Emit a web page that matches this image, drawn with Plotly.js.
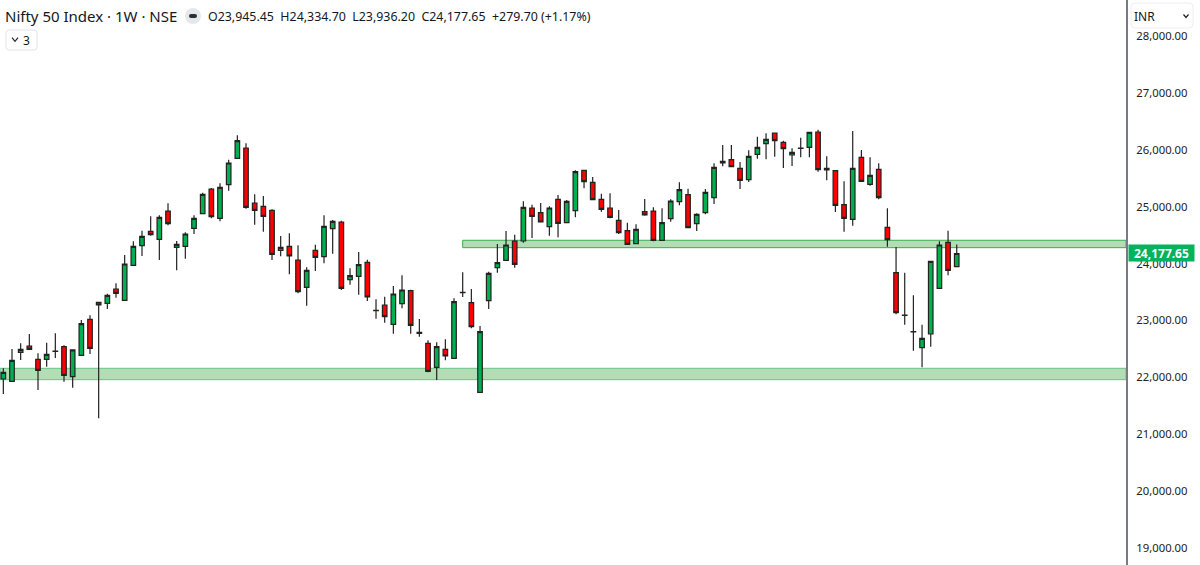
<!DOCTYPE html>
<html>
<head>
<meta charset="utf-8">
<script src="https://cdn.plot.ly/plotly-3.0.1.min.js"></script>
<style>html,body{margin:0;padding:0;background:#fff;overflow:hidden}#c{width:1200px;height:565px}</style>
</head>
<body>
<div id="c"></div>
<script>
const opens = [21972,21931,22441,22552,22318,22318,22458,22540,22013,22388,23021,23319,23302,23554,23354,23970,24315,24567,24426,24924,
24286,24303,24620,24878,25311,24796,25387,25850,26032,25065,25006,24936,24233,24303,24063,23583,24233,24122,24614,24731,
23718,23776,24022,23173,23272,22933,23296,23524,22792,22599,22177,22493,22335,23489,23313,21738,23349,23929,24057,24397,
24397,24977,24895,24649,25129,24719,24930,25639,25428,25129,24977,24760,24579,24350,24913,24924,24409,24790,25088,25212,
24702,24895,25159,25797,25827,25674,25475,25920,26108,26295,26131,25909,26026,26043,26313,25645,25633,25036,24778,25868,
25393,25657,24637,23841,23097,22804,22523,22763,23565,24374,23945.45];
const highs = [22160,22499,22599,22763,22423,22611,22775,22564,22493,23009,23091,23325,23472,23653,24151,24391,24579,24831,24848,25059,
24397,24550,24848,25247,25329,25411,25827,26254,26114,25217,25188,24954,24485,24532,24321,23934,24333,24848,24766,24755,
23917,24204,24069,23372,23419,23606,23794,23542,23026,22652,22616,22669,23390,23847,23554,22903,23858,24344,24573,24508,
25094,25036,25065,25006,25206,25118,25639,25651,25522,25229,25235,24942,24719,24690,25135,24989,24971,25129,25428,25317,
24883,25311,25762,26084,26084,25786,25991,26231,26289,26301,26160,26026,26213,26313,26354,25885,25645,25446,26330,25996,
25868,25762,24971,24292,23841,23442,22927,24046,24391,24579,24334.70];
const lows = [21708,21931,22306,22493,21779,22189,22341,21925,21820,22388,22411,21281,23202,23401,23354,23970,24134,24491,24063,24673,
23882,24087,24520,24878,24796,24743,25282,25850,24965,24684,24561,24063,24128,23811,23477,23261,23870,24005,24175,23536,
23630,23454,23343,23032,22962,22769,23214,22769,22716,22089,21954,22300,22335,23413,22862,21738,23202,23841,24057,23929,
24368,24450,24731,24491,24462,24708,24813,25323,25112,24913,24796,24520,24327,24339,24842,24391,24403,24737,25024,24620,
24573,24866,25047,25709,25698,25311,25434,25844,25832,25879,25680,25715,25868,25868,25616,25463,24907,24561,24667,25434,
25370,25129,24298,23108,22927,22470,22177,22540,23554,23794,23936.20];
const closes = [22089,22300,22493,22493,22124,22406,22464,22036,22482,22944,22511,23272,23442,23477,23993,24303,24479,24509,24813,24702,
24339,24520,24796,25217,24825,25340,25768,26160,24989,24936,24831,24163,24286,24134,23507,23882,24110,24655,24743,23565,
23788,23981,23413,23179,23067,23466,23536,22915,22774,22107,22540,22376,23331,23495,22892,22804,23829,24016,24327,23987,
24989,24831,24731,24977,24708,25094,25616,25440,25124,24954,24813,24544,24339,24602,24854,24409,24719,25100,25299,24632,
24866,25253,25692,25768,25704,25463,25885,26043,26184,26160,26020,25955,26032,26307,25651,25674,25024,24796,25674,25446,
25551,25159,24421,23138,23091,22798,22687,24040,24327,23882,24177.65];

const yTicks = [19000,20000,21000,22000,23000,24000,25000,26000,27000,28000];
const zoneLower = [21960,22160];
const zoneUpper = [24280,24410];
const zoneUpperStart = 53;
const lastPrice = 24177.65;
const titleText = 'Nifty 50 Index · 1W · NSE';
const ohlcText = 'O23,945.45  H24,334.70  L23,936.20  C24,177.65  +279.70 (+1.17%)';

const W = 1200, H = 565, plotW = 1126;
const px = x => x / plotW;
const py = y => 1 - y / H;
const FONT = '"Noto Sans", sans-serif';

function roundRect(x0, y0, x1, y1, r) {
  return `M${px(x0 + r)},${py(y0)} L${px(x1 - r)},${py(y0)} Q${px(x1)},${py(y0)} ${px(x1)},${py(y0 + r)} ` +
         `L${px(x1)},${py(y1 - r)} Q${px(x1)},${py(y1)} ${px(x1 - r)},${py(y1)} L${px(x0 + r)},${py(y1)} ` +
         `Q${px(x0)},${py(y1)} ${px(x0)},${py(y1 - r)} L${px(x0)},${py(y0 + r)} Q${px(x0)},${py(y0)} ${px(x0 + r)},${py(y0)} Z`;
}
function chevron(cx, cy, w, h) {
  return `M${px(cx - w)},${py(cy - h)} L${px(cx)},${py(cy + h)} L${px(cx + w)},${py(cy - h)}`;
}
function textAt(x, y, text, size, color, extra) {
  return Object.assign({xref: 'paper', yref: 'paper', x: px(x), y: py(y), xanchor: 'left', yanchor: 'middle',
    text, showarrow: false, font: {family: FONT, size, color}, borderpad: 0}, extra || {});
}

const x = opens.map((_, i) => i);
const trace = {
  type: 'candlestick', x, open: opens, high: highs, low: lows, close: closes,
  increasing: {line: {color: '#222222', width: 1.2}, fillcolor: '#00b050'},
  decreasing: {line: {color: '#222222', width: 1.2}, fillcolor: '#ff0000'},
  whiskerwidth: 0, hoverinfo: 'skip', showlegend: false
};

const xRange = [-0.384, 129.53];
const layout = {
  width: W, height: H, margin: {l: 0, r: W - plotW, t: 0, b: 0, pad: 0, autoexpand: false},
  paper_bgcolor: '#ffffff', plot_bgcolor: '#ffffff', showlegend: false, boxgap: 0.25,
  xaxis: {range: xRange, visible: false, rangeslider: {visible: false}, fixedrange: true},
  yaxis: {range: [18703, 28632.7], side: 'right', tickmode: 'array', tickvals: yTicks, tickformat: ',.2f',
    ticks: '', showgrid: false, zeroline: false, showline: true, linecolor: '#787b86', linewidth: 2, mirror: false,
    tickfont: {family: FONT, size: 11.3, color: '#222222'}, ticklabelstandoff: 6, fixedrange: true},
  shapes: [
    {type: 'rect', layer: 'below', xref: 'x', yref: 'y', x0: xRange[0], x1: xRange[1], y0: zoneLower[0], y1: zoneLower[1],
      fillcolor: '#b3deb5', line: {color: '#66c48a', width: 1}},
    {type: 'rect', layer: 'below', xref: 'x', yref: 'y', x0: zoneUpperStart, x1: xRange[1], y0: zoneUpper[0], y1: zoneUpper[1],
      fillcolor: '#b3deb5', line: {color: '#3dad4e', width: 1}},
    {type: 'path', xref: 'paper', yref: 'paper', path: roundRect(1131, 3, 1193, 28, 4), fillcolor: '#ffffff', line: {color: '#eceef2', width: 1}},
    {type: 'path', xref: 'paper', yref: 'paper', path: chevron(1186, 16, 2.5, 1.5), line: {color: '#222222', width: 1.2}},
    {type: 'path', xref: 'paper', yref: 'paper', path: roundRect(6, 30, 37, 50, 3), fillcolor: '#ffffff', line: {color: '#e0e3eb', width: 1}},
    {type: 'path', xref: 'paper', yref: 'paper', path: chevron(15, 39.5, 3, 1.8), line: {color: '#222222', width: 1.2}},
    {type: 'circle', xref: 'paper', yref: 'paper', x0: px(185), x1: px(201), y0: py(24), y1: py(8), fillcolor: '#e6e7ea', line: {width: 0}},
    {type: 'path', xref: 'paper', yref: 'paper', path: roundRect(189, 14, 197, 18, 2), fillcolor: '#2a2e39', line: {width: 0}}
  ],
  annotations: [
    textAt(4, 16, titleText, 15, '#131722'),
    textAt(207, 16, ohlcText, 12.4, '#131722'),
    textAt(22, 40, '3', 12, '#131722'),
    textAt(1133, 16, 'INR', 12, '#131722'),
    {xref: 'paper', yref: 'y', x: px(1128), y: lastPrice, xanchor: 'left', yanchor: 'middle', text: '<b>24,177.65</b>',
      showarrow: false, bgcolor: '#00b35c', width: 65, height: 16, borderpad: 0, align: 'center',
      font: {family: FONT, size: 12, color: '#ffffff'}}
  ]
};
Plotly.newPlot('c', [trace], layout, {staticPlot: true, displayModeBar: false});
</script>
</body>
</html>
